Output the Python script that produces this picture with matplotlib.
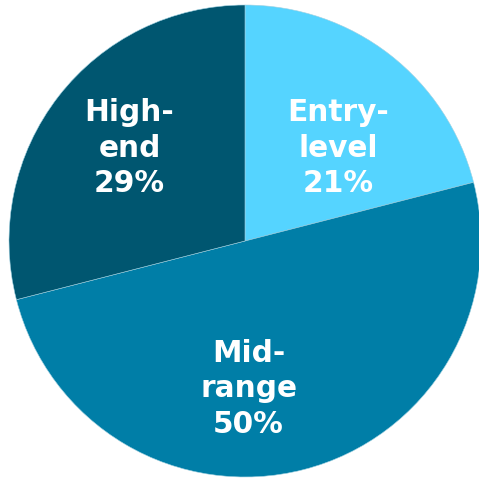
import matplotlib
matplotlib.use("Agg")
import matplotlib.pyplot as plt
import numpy as np

categories = ["Entry-\nlevel", "Mid-\nrange", "High-\nend"]
shares = [21, 50, 29]
colors = ["#55D4FF", "#007EA7", "#005670"]

# label positions (layout, in axes data units of a unit-radius pie)
label_pos = [(0.394, 0.394), (0.015, -0.627), (-0.489, 0.394)]

W = H = 479
fig = plt.figure(figsize=(W / 100, H / 100), dpi=100)
cx, cy, r = 245, 479 - 241, 236
ax = fig.add_axes([(cx - r) / W, (cy - r) / H, 2 * r / W, 2 * r / H])
ax.pie(shares, colors=colors, startangle=90, counterclock=False, radius=1,
       wedgeprops=dict(edgecolor="#9fd0e0", linewidth=0.4))
ax.set_xlim(-1, 1)
ax.set_ylim(-1, 1)
ax.set_aspect("equal")
ax.axis("off")

for cat, val, (x, y) in zip(categories, shares, label_pos):
    ax.text(x, y, f"{cat}\n{val}%", ha="center", va="center", color="white",
            fontsize=21.3, fontweight="bold", family="DejaVu Sans", linespacing=1.28)

fig.savefig("out.png", dpi=100)
